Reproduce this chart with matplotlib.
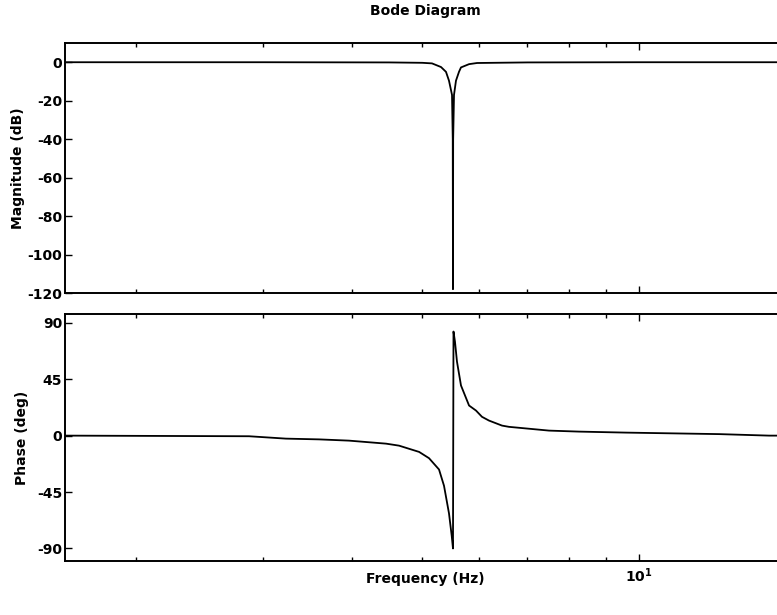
import numpy as np
import matplotlib
matplotlib.use('Agg')
import matplotlib.pyplot as plt
from matplotlib.ticker import LogLocator, NullFormatter, FixedLocator, FixedFormatter

plt.rcParams['font.family'] = ['DejaVu Sans']
plt.rcParams['font.weight'] = 'bold'
plt.rcParams['axes.labelweight'] = 'bold'
plt.rcParams['axes.titleweight'] = 'bold'
plt.rcParams['axes.unicode_minus'] = False

# Amplitude
mag_freq = [1.595, 3.0, 4.5, 5.0, 5.158, 5.309, 5.394, 5.446, 5.499, 5.512, 5.516,
            5.519, 5.534, 5.569, 5.623, 5.659, 5.807, 5.957, 7.0, 10.0, 15.95]
mag_db = [0, 0, -0.1, -0.3, -0.6, -2.5, -5, -9.6, -17, -40, -118,
          -40, -17, -9.6, -5, -2.7, -1, -0.4, -0.1, 0, 0]

# Phase
ph_freq = [1.595, 2.873, 3.233, 3.594, 3.956, 4.453, 4.642, 4.950, 5.109, 5.275,
           5.360, 5.446, 5.494, 5.516, 5.525, 5.551, 5.587, 5.659, 5.751, 5.807,
           5.937, 6.052, 6.189, 6.452, 6.598, 7.499, 8.254, 9.592, 12.92, 15.16, 15.95]
ph_deg = [0, -0.5, -2.4, -3, -4, -6.4, -8, -13, -18, -27,
          -40, -62, -80, -90, 83, 75, 59, 40, 30, 24,
          20, 15, 12, 8, 7, 4, 3.2, 2.4, 1.2, 0, 0]

fig = plt.figure(figsize=(7.77, 6.15), dpi=100)
W, H = 777.0, 615.0
ax1 = fig.add_axes([65 / W, 1 - 293 / H, 720 / W, 250 / H])
ax2 = fig.add_axes([65 / W, 1 - 561 / H, 720 / W, 247 / H])

ax1.plot(mag_freq, mag_db, color='black', lw=1.3)
ax2.plot(ph_freq, ph_deg, color='black', lw=1.3)

for ax in (ax1, ax2):
    ax.set_xscale('log')
    ax.set_xlim(1.595, 15.95)
    ax.xaxis.set_major_locator(FixedLocator([10]))
    ax.xaxis.set_minor_locator(LogLocator(base=10, subs=np.arange(2, 10)))
    ax.xaxis.set_minor_formatter(NullFormatter())
    ax.tick_params(which='both', direction='in', top=True, right=True,
                   labelsize=10, width=1.0, pad=2)
    ax.tick_params(which='major', length=5)
    ax.tick_params(which='minor', length=3)
    for s in ax.spines.values():
        s.set_linewidth(1.4)

ax1.set_ylim(-120, 10)
ax1.set_yticks([0, -20, -40, -60, -80, -100, -120])
ax1.tick_params(axis='x', labelbottom=False)
ax1.set_ylabel('Magnitude (dB)', fontsize=10)
ax1.yaxis.set_label_coords(-0.055, 0.5)
ax1.set_title('Bode Diagram', fontsize=10, pad=20)

ax2.set_ylim(-100, 97)
ax2.set_yticks([-90, -45, 0, 45, 90])
ax2.xaxis.set_major_formatter(FixedFormatter([r'$\mathbf{10^1}$']))
ax2.tick_params(axis='x', which='major', pad=4)
ax2.set_ylabel('Phase (deg)', fontsize=10)
ax2.yaxis.set_label_coords(-0.05, 0.5)
ax2.set_xlabel('Frequency (Hz)', fontsize=10)
ax2.xaxis.set_label_coords(0.5, -0.045)

fig.savefig('out.png', dpi=100)
